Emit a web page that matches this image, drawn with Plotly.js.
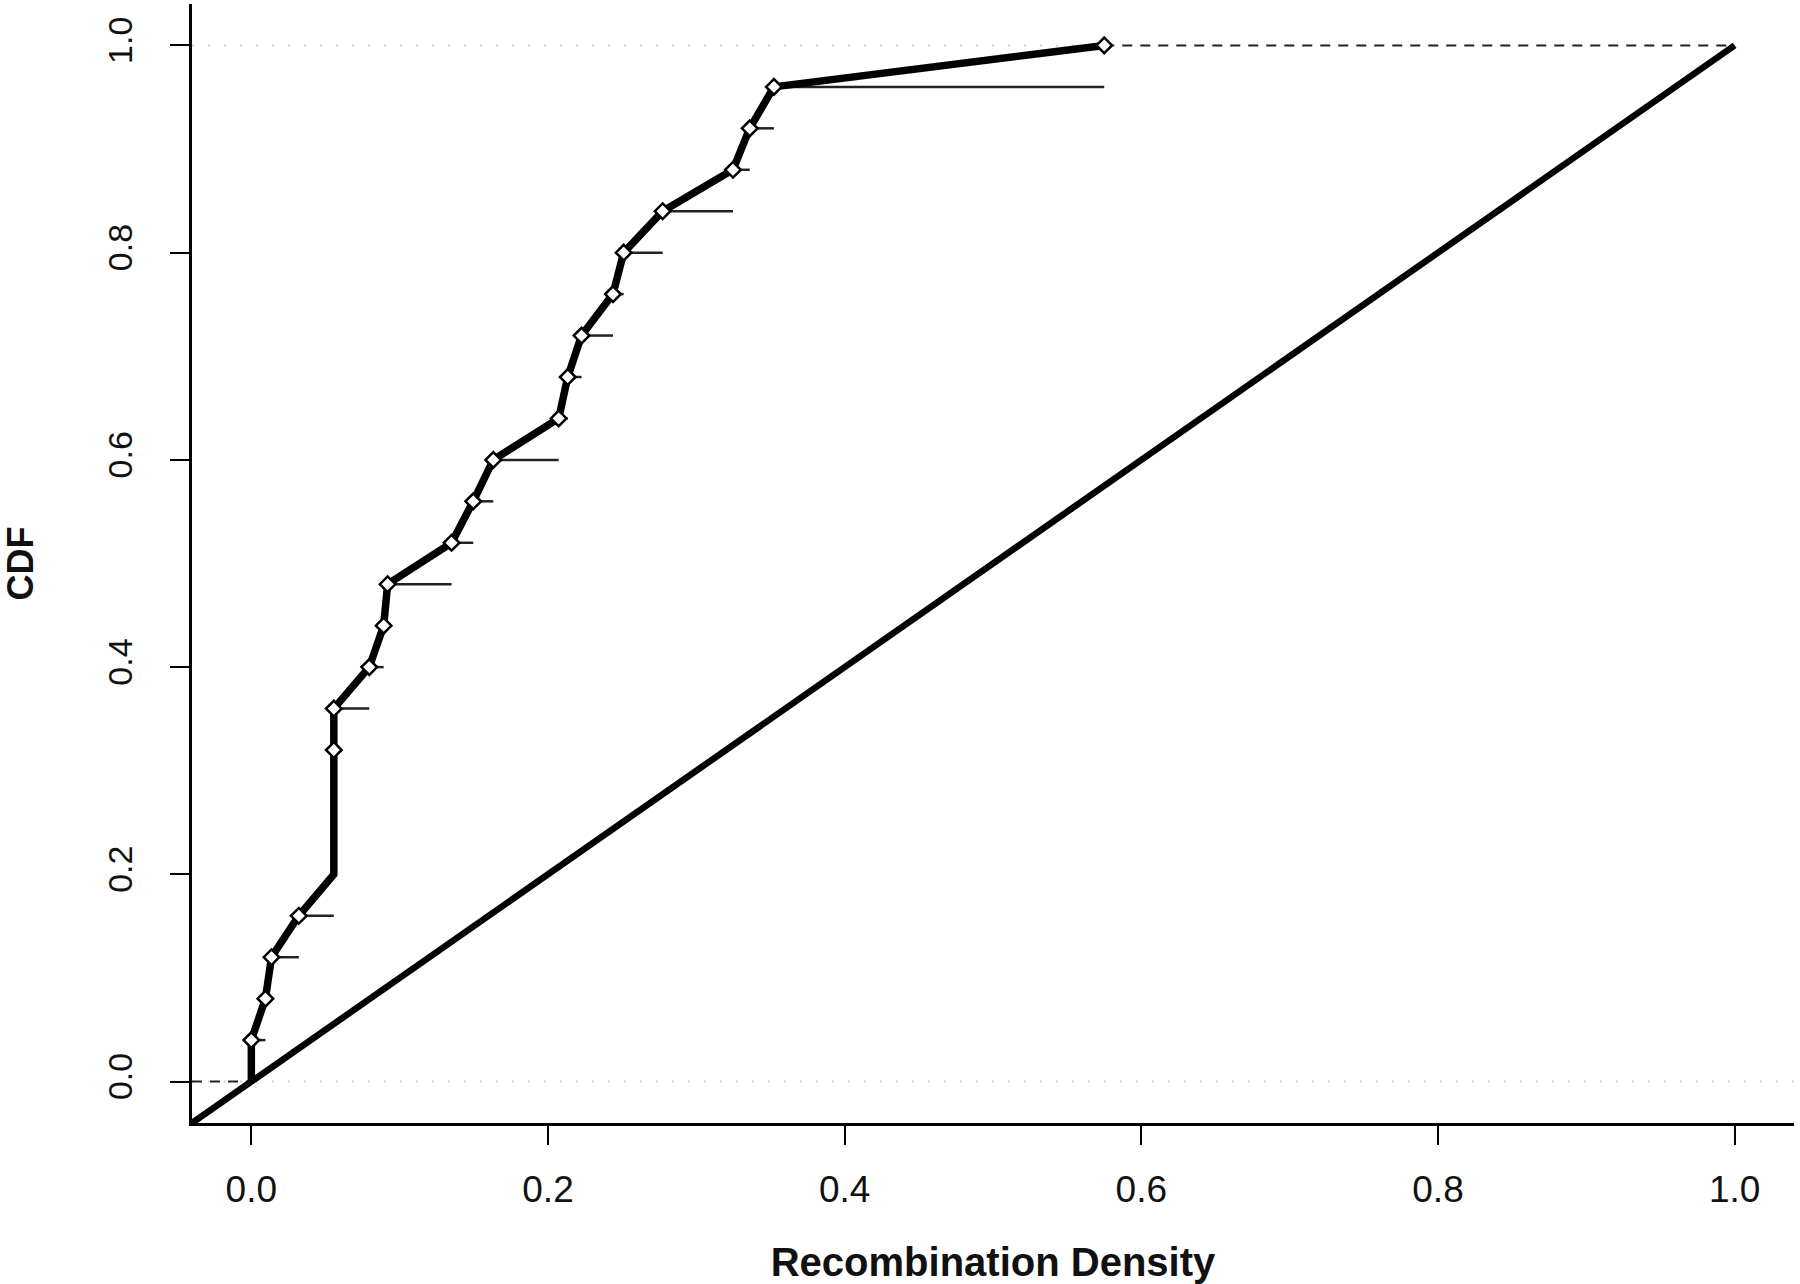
<!DOCTYPE html>
<html>
<head>
<meta charset="utf-8">
<script src="https://cdn.plot.ly/plotly-3.0.1.min.js"></script>
<style>
  html, body { margin: 0; padding: 0; background: #ffffff; }
  #chart { width: 1800px; height: 1284px; }
</style>
</head>
<body>
<div id="chart"></div>
<script>
// ---- Data ----
// Sorted recombination densities (x) and their empirical CDF values (y)
const recombDensity = [0.0, 0.0095, 0.0136, 0.032, 0.0556, 0.0556, 0.0556, 0.0556, 0.0556,
                       0.0795, 0.0892, 0.0919, 0.135, 0.1496, 0.1631, 0.2072, 0.2133, 0.2226,
                       0.2438, 0.251, 0.2773, 0.3247, 0.336, 0.3523, 0.575];
const cdfValues = [0.04, 0.08, 0.12, 0.16, 0.20, 0.24, 0.28, 0.32, 0.36,
                   0.40, 0.44, 0.48, 0.52, 0.56, 0.60, 0.64, 0.68, 0.72,
                   0.76, 0.80, 0.84, 0.88, 0.92, 0.96, 1.00];
// CDF levels whose points are drawn without a marker (hidden on the vertical run)
const unmarkedLevels = [0.20, 0.24, 0.28];
// Curve starting point
const curveStartX = 0.0;
const curveStartY = 0.0;
// Reference diagonal (uniform CDF)
const diagonalX = [-0.04, 1.0];
const diagonalY = [-0.04, 1.0];
// Extension of the step function outside the data range
const lowerTailX = [-0.04, 0.0];
const upperTailEndX = 1.0;
// Axis ticks
const tickVals = [0.0, 0.2, 0.4, 0.6, 0.8, 1.0];
const tickText = ['0.0', '0.2', '0.4', '0.6', '0.8', '1.0'];
const axisRange = [-0.04, 1.04];

// ---- Build traces from the arrays ----
const stepX = [], stepY = [];
for (let i = 0; i < recombDensity.length - 1; i++) {
  stepX.push(recombDensity[i], recombDensity[i + 1], null);
  stepY.push(cdfValues[i], cdfValues[i], null);
}
const lastIdx = recombDensity.length - 1;

const markX = [], markY = [];
recombDensity.forEach((x, i) => {
  const y = cdfValues[i];
  if (!unmarkedLevels.some(l => Math.abs(l - y) < 1e-9)) { markX.push(x); markY.push(y); }
});

const traces = [
  // faint grey reference lines at 0 and 1
  { x: [axisRange[0], axisRange[1]], y: [0, 0], mode: 'lines',
    line: { color: '#d4d4d4', width: 2, dash: '2px,14px' }, hoverinfo: 'skip' },
  { x: [axisRange[0], recombDensity[lastIdx]], y: [1, 1], mode: 'lines',
    line: { color: '#d4d4d4', width: 2, dash: '2px,14px' }, hoverinfo: 'skip' },
  // dashed tails of the step function
  { x: lowerTailX, y: [curveStartY, curveStartY], mode: 'lines',
    line: { color: '#222', width: 2, dash: '10px,8px' }, hoverinfo: 'skip' },
  { x: [recombDensity[lastIdx], upperTailEndX], y: [cdfValues[lastIdx], cdfValues[lastIdx]], mode: 'lines',
    line: { color: '#222', width: 2, dash: '10px,8px' }, hoverinfo: 'skip' },
  // thin step function (ECDF)
  { x: stepX, y: stepY, mode: 'lines', connectgaps: false,
    line: { color: '#222', width: 2.5 }, hoverinfo: 'skip' },
  // diagonal
  { x: diagonalX, y: diagonalY, mode: 'lines',
    line: { color: '#000', width: 6.5 }, hoverinfo: 'skip' },
  // thick connecting curve
  { x: [curveStartX].concat(recombDensity), y: [curveStartY].concat(cdfValues), mode: 'lines',
    line: { color: '#000', width: 7.5 }, hoverinfo: 'skip' },
  // markers
  { x: markX, y: markY, mode: 'markers',
    marker: { symbol: 'diamond', size: 12, color: '#ffffff', line: { color: '#000', width: 2.5 } },
    hoverinfo: 'skip' }
];

const tickFontX = { family: 'Liberation Sans, Arial, sans-serif', size: 37, color: '#111' };
const tickFontY = { family: 'Liberation Sans Narrow, Liberation Sans, Arial, sans-serif', size: 34, color: '#111' };

const layout = {
  width: 1800, height: 1284,
  paper_bgcolor: '#ffffff', plot_bgcolor: '#ffffff',
  showlegend: false,
  margin: { l: 192, r: 6, t: 4, b: 161 },
  xaxis: {
    range: axisRange, tickvals: tickVals, ticktext: tickText,
    showgrid: false, zeroline: false,
    showline: true, linecolor: '#000', linewidth: 3,
    ticks: 'outside', ticklen: 19, tickwidth: 2, tickcolor: '#000',
    ticklabelstandoff: 13,
    tickfont: tickFontX,
    title: { text: 'Recombination Density', standoff: 62,
             font: { family: 'Liberation Sans, Arial, sans-serif', size: 40, weight: 'bold', color: '#111' } }
  },
  yaxis: {
    range: axisRange, tickvals: tickVals, ticktext: tickText,
    showgrid: false, zeroline: false,
    showline: true, linecolor: '#000', linewidth: 3,
    ticks: 'outside', ticklen: 19, tickwidth: 2, tickcolor: '#000',
    tickangle: -90, ticklabelstandoff: 24,
    tickfont: tickFontY,
    title: { text: 'CDF', standoff: 60,
             font: { family: 'Liberation Sans Narrow, Liberation Sans, Arial, sans-serif', size: 36, weight: 'bold', color: '#111' } }
  }
};

Plotly.newPlot('chart', traces, layout, { staticPlot: true, displayModeBar: false });
</script>
</body>
</html>
